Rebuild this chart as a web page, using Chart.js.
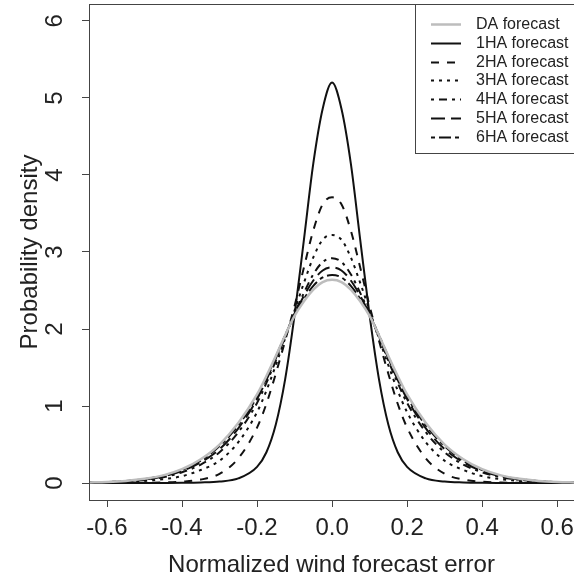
<!DOCTYPE html>
<html lang="en">
<head>
    <meta charset="UTF-8">
    <title>Wind forecast error density</title>
    <script src="https://cdn.jsdelivr.net/npm/chart.js"></script>
    <style>
        body { margin: 0; background: #fff; }
    </style>
</head>
<body>
    <canvas id="densityChart" width="574" height="583"></canvas>

    <script>
        var xValues = [-0.65, -0.6, -0.55, -0.5, -0.45, -0.4, -0.35, -0.3, -0.25, -0.2, -0.175, -0.15, -0.125, -0.1, -0.075, -0.05, -0.025, 0,
                       0.025, 0.05, 0.075, 0.1, 0.125, 0.15, 0.175, 0.2, 0.25, 0.3, 0.35, 0.4, 0.45, 0.5, 0.55, 0.6, 0.65];

        var daForecast = [0.007, 0.014, 0.028, 0.055, 0.10, 0.18, 0.31, 0.50, 0.78, 1.15, 1.39, 1.65, 1.92, 2.17, 2.36, 2.51, 2.61, 2.64,
                          2.61, 2.51, 2.36, 2.17, 1.92, 1.65, 1.39, 1.15, 0.78, 0.50, 0.31, 0.18, 0.10, 0.055, 0.028, 0.014, 0.007];
        var ha1Forecast = [0, 0, 0, 0, 0.001, 0.003, 0.008, 0.02, 0.06, 0.21, 0.40, 0.76, 1.35, 2.18, 3.16, 4.15, 4.86, 5.20,
                           4.86, 4.15, 3.16, 2.18, 1.35, 0.76, 0.40, 0.21, 0.06, 0.02, 0.008, 0.003, 0.001, 0, 0, 0, 0];
        var ha2Forecast = [0, 0, 0.001, 0.003, 0.007, 0.018, 0.045, 0.12, 0.32, 0.72, 1.03, 1.42, 1.85, 2.30, 2.80, 3.28, 3.62, 3.71,
                           3.62, 3.28, 2.80, 2.30, 1.85, 1.42, 1.03, 0.72, 0.32, 0.12, 0.045, 0.018, 0.007, 0.003, 0.001, 0, 0];
        var ha3Forecast = [0.003, 0.006, 0.013, 0.027, 0.05, 0.09, 0.17, 0.29, 0.53, 0.92, 1.20, 1.53, 1.88, 2.24, 2.60, 2.93, 3.16, 3.22,
                           3.16, 2.93, 2.60, 2.24, 1.88, 1.53, 1.20, 0.92, 0.53, 0.29, 0.17, 0.09, 0.05, 0.027, 0.013, 0.006, 0.003];
        var ha4Forecast = [0.005, 0.010, 0.021, 0.041, 0.076, 0.14, 0.24, 0.40, 0.66, 1.04, 1.30, 1.59, 1.90, 2.20, 2.47, 2.71, 2.87, 2.92,
                           2.87, 2.71, 2.47, 2.20, 1.90, 1.59, 1.30, 1.04, 0.66, 0.40, 0.24, 0.14, 0.076, 0.041, 0.021, 0.010, 0.005];
        var ha5Forecast = [0.006, 0.012, 0.024, 0.047, 0.086, 0.156, 0.27, 0.44, 0.71, 1.09, 1.34, 1.62, 1.91, 2.19, 2.43, 2.63, 2.76, 2.80,
                           2.76, 2.63, 2.43, 2.19, 1.91, 1.62, 1.34, 1.09, 0.71, 0.44, 0.27, 0.156, 0.086, 0.047, 0.024, 0.012, 0.006];
        var ha6Forecast = [0.0065, 0.013, 0.026, 0.052, 0.094, 0.17, 0.29, 0.48, 0.75, 1.12, 1.37, 1.64, 1.92, 2.18, 2.39, 2.56, 2.67, 2.70,
                           2.67, 2.56, 2.39, 2.18, 1.92, 1.64, 1.37, 1.12, 0.75, 0.48, 0.29, 0.17, 0.094, 0.052, 0.026, 0.013, 0.0065];

        var seriesNames = ['DA forecast', '1HA forecast', '2HA forecast', '3HA forecast', '4HA forecast', '5HA forecast', '6HA forecast'];
        var xTickValues = [-0.6, -0.4, -0.2, 0.0, 0.2, 0.4, 0.6];
        var yTickValues = [0, 1, 2, 3, 4, 5, 6];

        var FONT = "'Liberation Sans', Arial, sans-serif";

        function toPoints(ys) {
            return xValues.map(function (x, i) { return { x: x, y: ys[i] }; });
        }

        var styles = [
            { color: '#bdbdbd', width: 2.5, dash: [] },
            { color: '#111', width: 2, dash: [] },
            { color: '#111', width: 2, dash: [8, 8] },
            { color: '#111', width: 2, dash: [3, 5] },
            { color: '#111', width: 2, dash: [3, 5, 8, 5] },
            { color: '#111', width: 2, dash: [14, 6] },
            { color: '#111', width: 2, dash: [4, 4, 12, 4] }
        ];
        var allSeries = [daForecast, ha1Forecast, ha2Forecast, ha3Forecast, ha4Forecast, ha5Forecast, ha6Forecast];

        var datasets = allSeries.map(function (ys, i) {
            return {
                label: seriesNames[i],
                data: toPoints(ys),
                borderColor: styles[i].color,
                borderWidth: styles[i].width,
                borderDash: styles[i].dash,
                pointRadius: 0,
                fill: false,
                cubicInterpolationMode: 'monotone'
            };
        });

        // no extra room for overhanging tick labels, the frame is fixed
        function noPadding(scale) {
            scale.paddingLeft = 0;
            scale.paddingRight = 0;
            scale.paddingTop = 0;
            scale.paddingBottom = 0;
        }

        // plot frame + legend box drawn like base R graphics
        var frameAndLegend = {
            id: 'frameAndLegend',
            afterDraw: function (chart) {
                var ctx = chart.ctx;
                var a = chart.chartArea;
                ctx.save();
                ctx.strokeStyle = '#444';
                ctx.lineWidth = 1;
                ctx.strokeRect(Math.round(a.left) + 0.5, Math.round(a.top) + 0.5, a.right - a.left, a.bottom - a.top);

                // legend
                ctx.fillStyle = '#fff';
                ctx.fillRect(415.5, 4.5, 170, 149);
                ctx.strokeRect(415.5, 4.5, 170, 149);
                ctx.font = '16px ' + FONT;
                ctx.textBaseline = 'middle';
                ctx.textAlign = 'left';
                chart.data.datasets.forEach(function (ds, i) {
                    var y = Math.round(24 + i * 18.8) + 0.5;
                    ctx.beginPath();
                    ctx.strokeStyle = ds.borderColor;
                    ctx.lineWidth = ds.borderWidth;
                    ctx.setLineDash(ds.borderDash);
                    ctx.moveTo(431, y);
                    ctx.lineTo(461, y);
                    ctx.stroke();
                    ctx.setLineDash([]);
                    ctx.fillStyle = '#222';
                    ctx.fillText(ds.label, 476, y);
                });
                ctx.restore();
            }
        };

        var ctx = document.getElementById('densityChart').getContext('2d');
        var densityChart = new Chart(ctx, {
            type: 'line',
            data: { datasets: datasets },
            options: {
                responsive: false,
                animation: false,
                layout: { padding: { top: 4, right: 0, bottom: 0, left: 0 } },
                plugins: {
                    legend: { display: false },
                    tooltip: { enabled: false }
                },
                scales: {
                    x: {
                        type: 'linear',
                        min: -0.648,
                        max: 0.645,
                        afterBuildTicks: function (scale) {
                            scale.ticks = xTickValues.map(function (v) { return { value: v }; });
                        },
                        afterFit: function (scale) { scale.height = 83; noPadding(scale); },
                        grid: { drawOnChartArea: false, drawTicks: true, tickLength: 7, tickColor: '#444' },
                        border: { display: false },
                        ticks: {
                            padding: 7,
                            color: '#222',
                            font: { family: FONT, size: 24, lineHeight: 1.2 },
                            maxRotation: 0,
                            callback: function (v) { return v.toFixed(1); }
                        },
                        title: {
                            display: true,
                            text: 'Normalized wind forecast error',
                            color: '#222',
                            font: { family: FONT, size: 24, lineHeight: 1.2 },
                            padding: { top: 0, bottom: 3 }
                        }
                    },
                    y: {
                        type: 'linear',
                        min: -0.22,
                        max: 6.22,
                        afterBuildTicks: function (scale) {
                            scale.ticks = yTickValues.map(function (v) { return { value: v }; });
                        },
                        afterFit: function (scale) { scale.width = 89; noPadding(scale); },
                        grid: { drawOnChartArea: false, drawTicks: true, tickLength: 7, tickColor: '#444' },
                        border: { display: false },
                        ticks: {
                            padding: 20,
                            color: '#222',
                            crossAlign: 'center',
                            minRotation: 90,
                            maxRotation: 90,
                            font: { family: FONT, size: 24, lineHeight: 1.2 },
                            callback: function (v) { return String(v); }
                        },
                        title: {
                            display: true,
                            text: 'Probability density',
                            color: '#222',
                            font: { family: FONT, size: 24, lineHeight: 1.2 },
                            padding: { top: 16, bottom: 0 }
                        }
                    }
                }
            },
            plugins: [frameAndLegend]
        });
    </script>
</body>
</html>
